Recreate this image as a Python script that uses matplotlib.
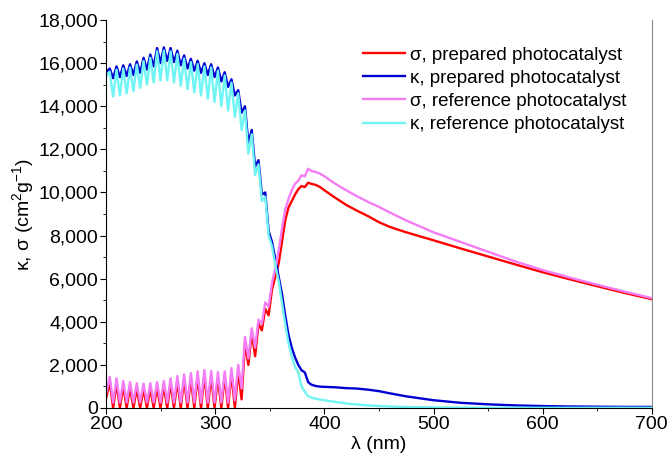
import matplotlib
matplotlib.use("Agg")
import matplotlib.pyplot as plt
from matplotlib.ticker import MultipleLocator, StrMethodFormatter

plt.rcParams['font.family'] = ['Liberation Sans', 'DejaVu Sans']
plt.rcParams['mathtext.fontset'] = 'custom'
plt.rcParams['mathtext.rm'] = 'Liberation Sans'
plt.rcParams['mathtext.it'] = 'Liberation Sans:italic'

# wavelength grid (nm): oscillating UV part, then the smooth part
wl_osc = [200.0, 203.1, 206.2, 209.3, 212.4, 215.5, 218.6, 221.7, 224.8, 227.9,
          231.0, 234.1, 237.2, 240.3, 243.4, 246.5, 249.6, 252.7, 255.8, 258.9,
          262.0, 265.1, 268.2, 271.3, 274.4, 277.5, 280.6, 283.7, 286.8, 289.9,
          293.0, 296.1, 299.2, 302.3, 305.4, 308.5, 311.6, 314.7, 317.8, 320.9,
          324.0, 327.1, 330.2, 333.3, 336.4, 339.5, 342.6, 345.7, 348.8, 351.9,
          355.0]
wl_tail = [358, 361, 364, 367, 370, 373, 376, 379, 382, 385, 388, 392, 396, 400,
           410, 420, 430, 440, 450, 460, 475, 500, 525, 550, 575, 600, 625, 650,
           675, 700]

# sigma, prepared photocatalyst
sig_prep_osc = [500, 1200, 0, 1130, 0, 1000, 0, 950, 0, 900,
                0, 880, 0, 900, 0, 950, 0, 1000, 0, 1130,
                0, 1230, 0, 1310, 0, 1370, 0, 1450, 0, 1510,
                0, 1470, 0, 1410, 0, 1450, 0, 1600, 0, 1700,
                400, 3000, 2000, 3500, 2400, 3900, 3600, 4600, 4300, 5500,
                6100]
sig_prep_tail = [6700, 7700, 8700, 9300, 9600, 9900, 10150, 10300, 10250, 10450,
                 10400, 10350, 10250, 10100, 9750, 9420, 9150, 8900, 8620, 8400,
                 8150, 7780, 7400, 7030, 6660, 6300, 5970, 5650, 5340, 5050]

# kappa, prepared photocatalyst
kap_prep_osc = [15600, 15750, 15300, 15850, 15350, 15900, 15400, 15950, 15450, 16080,
                15550, 16250, 15700, 16400, 15850, 16700, 16000, 16730, 16100, 16700,
                16050, 16580, 15900, 16360, 15750, 16200, 15650, 16110, 15550, 16000,
                15450, 15950, 15350, 15800, 15150, 15580, 14900, 15250, 14500, 14750,
                13700, 14000, 12300, 12900, 11200, 11500, 9900, 10000, 8200, 7700,
                6900]
kap_prep_tail = [6100, 5300, 4300, 3400, 2800, 2350, 2000, 1750, 1650, 1200,
                 1080, 1020, 990, 980, 960, 920, 900, 850, 780, 680,
                 540, 360, 240, 170, 120, 90, 70, 60, 50, 50]

# sigma, reference photocatalyst
sig_ref_osc = [700, 1450, 250, 1380, 250, 1250, 250, 1200, 250, 1150,
               250, 1130, 250, 1150, 250, 1200, 250, 1250, 250, 1380,
               250, 1480, 250, 1560, 250, 1620, 250, 1700, 250, 1760,
               250, 1720, 250, 1660, 250, 1700, 250, 1850, 350, 2000,
               900, 3300, 2300, 3700, 2800, 4100, 3900, 4900, 4700, 5800,
               6500]
sig_ref_tail = [7300, 8300, 9200, 9700, 10100, 10400, 10550, 10800, 10750, 11100,
                11000, 10950, 10870, 10750, 10400, 10100, 9820, 9560, 9330, 9070,
                8700, 8150, 7700, 7250, 6800, 6400, 6050, 5720, 5400, 5100]

# kappa, reference photocatalyst
kap_ref_osc = [15400, 15600, 14450, 15700, 14500, 15750, 14600, 15800, 14700, 15930,
               14850, 16100, 15000, 16250, 15100, 16550, 15200, 16580, 15200, 16550,
               15100, 16430, 14950, 16210, 14800, 16050, 14650, 15960, 14500, 15850,
               14350, 15800, 14200, 15650, 14000, 15430, 13800, 15100, 13500, 14600,
               12900, 13800, 11800, 12700, 10800, 11300, 9600, 9800, 8000, 7500,
               6600]
kap_ref_tail = [5900, 4900, 3900, 3000, 2400, 1900, 1650, 1000, 750, 550,
                480, 430, 390, 360, 280, 210, 160, 120, 90, 70,
                45, 25, 15, 10, 10, 10, 10, 10, 10, 10]

labels = ["\u03c3, prepared photocatalyst", "\u03ba, prepared photocatalyst",
          "\u03c3, reference photocatalyst", "\u03ba, reference photocatalyst"]
colors = ["#ff0000", "#0000d0", "#f47cf4", "#70f4f4"]

wl = wl_osc + wl_tail
series = [sig_prep_osc + sig_prep_tail, kap_prep_osc + kap_prep_tail,
          sig_ref_osc + sig_ref_tail, kap_ref_osc + kap_ref_tail]

fig = plt.figure(figsize=(6.69, 4.66), dpi=100)
ax = fig.add_axes([0.159, 0.1245, 0.815, 0.8325])

for ys, lab, col in zip(series, labels, colors):
    ax.plot(wl, ys, color=col, lw=1.7, label=lab)

ax.set_xlim(200, 700)
ax.set_ylim(0, 18000)
ax.xaxis.set_major_locator(MultipleLocator(100))
ax.xaxis.set_minor_locator(MultipleLocator(50))
ax.yaxis.set_major_locator(MultipleLocator(2000))
ax.yaxis.set_minor_locator(MultipleLocator(1000))
ax.yaxis.set_major_formatter(StrMethodFormatter("{x:,.0f}"))
ax.tick_params(which='both', direction='out', labelsize=14)
ax.tick_params(which='major', length=4, pad=2)
ax.tick_params(which='minor', length=2.5)
ax.spines['top'].set_visible(False)
ax.spines['right'].set_color('#888888')

ax.set_xlabel("\u03bb (nm)", fontsize=14, labelpad=2)
ax.set_ylabel("\u03ba, \u03c3 (cm$^{2}$g$^{-1}$)", fontsize=14, labelpad=2)

ax.legend(loc='upper right', frameon=False, fontsize=13.5, handlelength=2.25,
          handletextpad=0.25, labelspacing=0.32, bbox_to_anchor=(0.985, 0.975))

fig.savefig("out.png", dpi=100)
